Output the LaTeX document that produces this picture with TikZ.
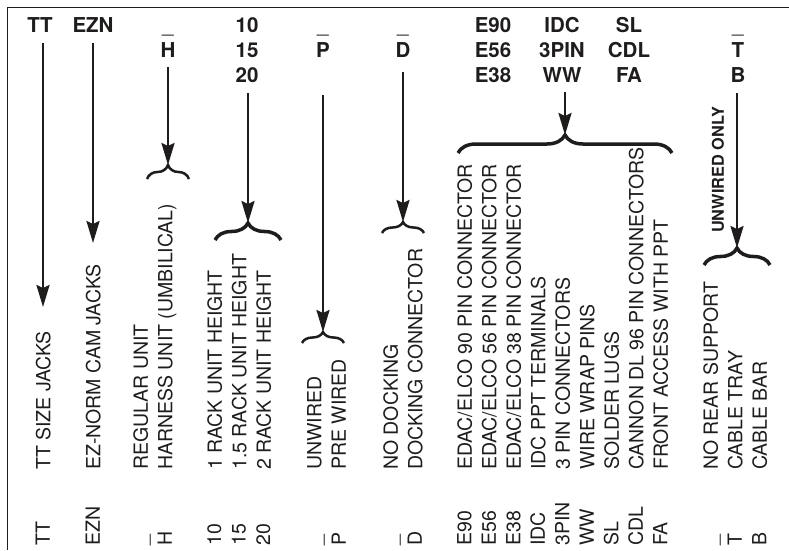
\documentclass[tikz,border=0pt]{standalone}
\usepackage{fontspec}
\setmainfont{TeX Gyre Heros}
\usetikzlibrary{arrows.meta,decorations.pathreplacing}
\definecolor{ink}{rgb}{0.12,0.11,0.11}
\begin{document}
\begin{tikzpicture}[x=1pt,y=1pt,
  every node/.style={text=ink},
  hdr/.style={font=\fontsize{20.5}{25}\selectfont\bfseries, align=center, anchor=north, inner sep=0pt},
  rot/.style={font=\fontsize{19.5}{24.5}\selectfont, align=left, rotate=90, anchor=north west, inner sep=0pt},
  arr/.style={draw=ink, line width=2.5pt, -{Stealth[length=22pt,width=13pt,inset=3pt]}},
  brc/.style={draw=ink, decorate, decoration={brace, amplitude=#1}, line width=2.5pt},
  bbrc/.style={draw=ink, decorate, decoration={brace, amplitude=#1}, line width=3.5pt},
]
\useasboundingbox (0,0) rectangle (789,-550);
\draw[ink, line width=1.8pt] (7.5,-550) -- (7.5,-7.5) -- (789,-7.5);

% headers
\node[hdr] (hTT) at (40,-17) {TT};
\node[hdr] (hEZN) at (93,-17) {EZN};
\node[hdr] (hH) at (168,-17) {\vphantom{H}\textmd{\_}\\H};
\node[hdr] (hNum) at (247,-17) {10\\15\\20};
\node[hdr] (hP) at (323,-17) {\vphantom{H}\textmd{\_}\\P};
\node[hdr] (hD) at (403,-17) {\vphantom{H}\textmd{\_}\\D};
\node[hdr] (hE) at (493,-17) {E90\\E56\\E38};
\node[hdr] (hI) at (562,-17) {IDC\\3PIN\\WW};
\node[hdr] (hS) at (629,-17) {SL\\CDL\\FA};
\node[hdr] (hT) at (738,-17) {\vphantom{H}\textmd{\_}\\T\\B};

% arrow start / end coordinates
\coordinate (sTT) at (43,-43);   \coordinate (eTT) at (43,-307);
\coordinate (sEZN) at (93,-43);  \coordinate (eEZN) at (93,-243);
\coordinate (sH) at (168,-67);   \coordinate (eH) at (168,-165);
\coordinate (sNum) at (248,-93); \coordinate (eNum) at (248,-223);
\coordinate (sP) at (323,-95);   \coordinate (eP) at (323,-332);
\coordinate (sD) at (403,-72);   \coordinate (eD) at (403,-222);
\coordinate (sE) at (565,-92);   \coordinate (eE) at (565,-135);
\coordinate (sT) at (737,-93);   \coordinate (eT) at (737,-248);

\draw[arr] (sTT) -- (eTT);
\draw[arr] (sEZN) -- (eEZN);
\draw[arr] (sH) -- (eH);
\draw[arr] (sNum) -- (eNum);
\draw[arr] (sP) -- (eP);
\draw[arr] (sD) -- (eD);
\draw[arr] (sE) -- (eE);
\draw[arr] (sT) -- (eT);

% braces
\coordinate (bH1) at (147,-179);  \coordinate (bH2) at (189,-179);
\coordinate (bN1) at (215,-240);  \coordinate (bN2) at (281,-240);
\coordinate (bP1) at (302,-343);  \coordinate (bP2) at (344,-343);
\coordinate (bD1) at (382,-233);  \coordinate (bD2) at (424,-233);
\coordinate (bE1) at (458,-153);  \coordinate (bE2) at (672,-153);
\coordinate (bT1) at (704,-265);  \coordinate (bT2) at (770,-265);
\draw[brc=14pt] (bH1) -- (bH2);
\draw[bbrc=17pt] (bN1) -- (bN2);
\draw[brc=11pt] (bP1) -- (bP2);
\draw[brc=11pt] (bD1) -- (bD2);
\draw[bbrc=18pt] (bE1) -- (bE2);
\draw[bbrc=17pt] (bT1) -- (bT2);

% rotated descriptions
\node[rot] (tTT) at (35.5,-470) {TT SIZE JACKS};
\node[rot] (tEZN) at (85.5,-470) {EZ-NORM CAM JACKS};
\node[rot] (tH) at (133,-470) {REGULAR UNIT\\HARNESS UNIT (UMBILICAL)};
\node[rot] (tNum) at (207,-470) {1 RACK UNIT HEIGHT\\1.5 RACK UNIT HEIGHT\\2 RACK UNIT HEIGHT};
\node[rot] (tP) at (307,-470) {UNWIRED\\PRE WIRED};
\node[rot] (tD) at (383,-470) {NO DOCKING\\DOCKING CONNECTOR};
\node[rot] (tE) at (457,-470) {EDAC/ELCO 90 PIN CONNECTOR\\EDAC/ELCO 56 PIN CONNECTOR\\EDAC/ELCO 38 PIN CONNECTOR\\IDC PPT TERMINALS\\3 PIN CONNECTORS\\WIRE WRAP PINS\\SOLDER LUGS\\CANNON DL 96 PIN CONNECTORS\\FRONT ACCESS WITH PPT};
\node[rot] (tT) at (703,-470) {NO REAR SUPPORT\\CABLE TRAY\\CABLE BAR};
\node[rot, font=\fontsize{16.3}{20}\selectfont\bfseries] (uo) at (711.5,-233) {UNWIRED ONLY};

% codes
\node[rot] (cTT) at (35.5,-546) {TT};
\node[rot] (cEZN) at (85.5,-546) {EZN};
\node[rot] (cH) at (133,-546) {\vphantom{H}\_\\H};
\node[rot] (cNum) at (207,-546) {10\\15\\20};
\node[rot] (cP) at (307,-546) {\vphantom{H}\_\\P};
\node[rot] (cD) at (383,-546) {\vphantom{H}\_\\D};
\node[rot] (cE) at (457,-546) {E90\\E56\\E38\\IDC\\3PIN\\WW\\SL\\CDL\\FA};
\node[rot] (cT) at (703,-546) {\vphantom{H}\_\\T\\B};
\end{tikzpicture}
\end{document}
